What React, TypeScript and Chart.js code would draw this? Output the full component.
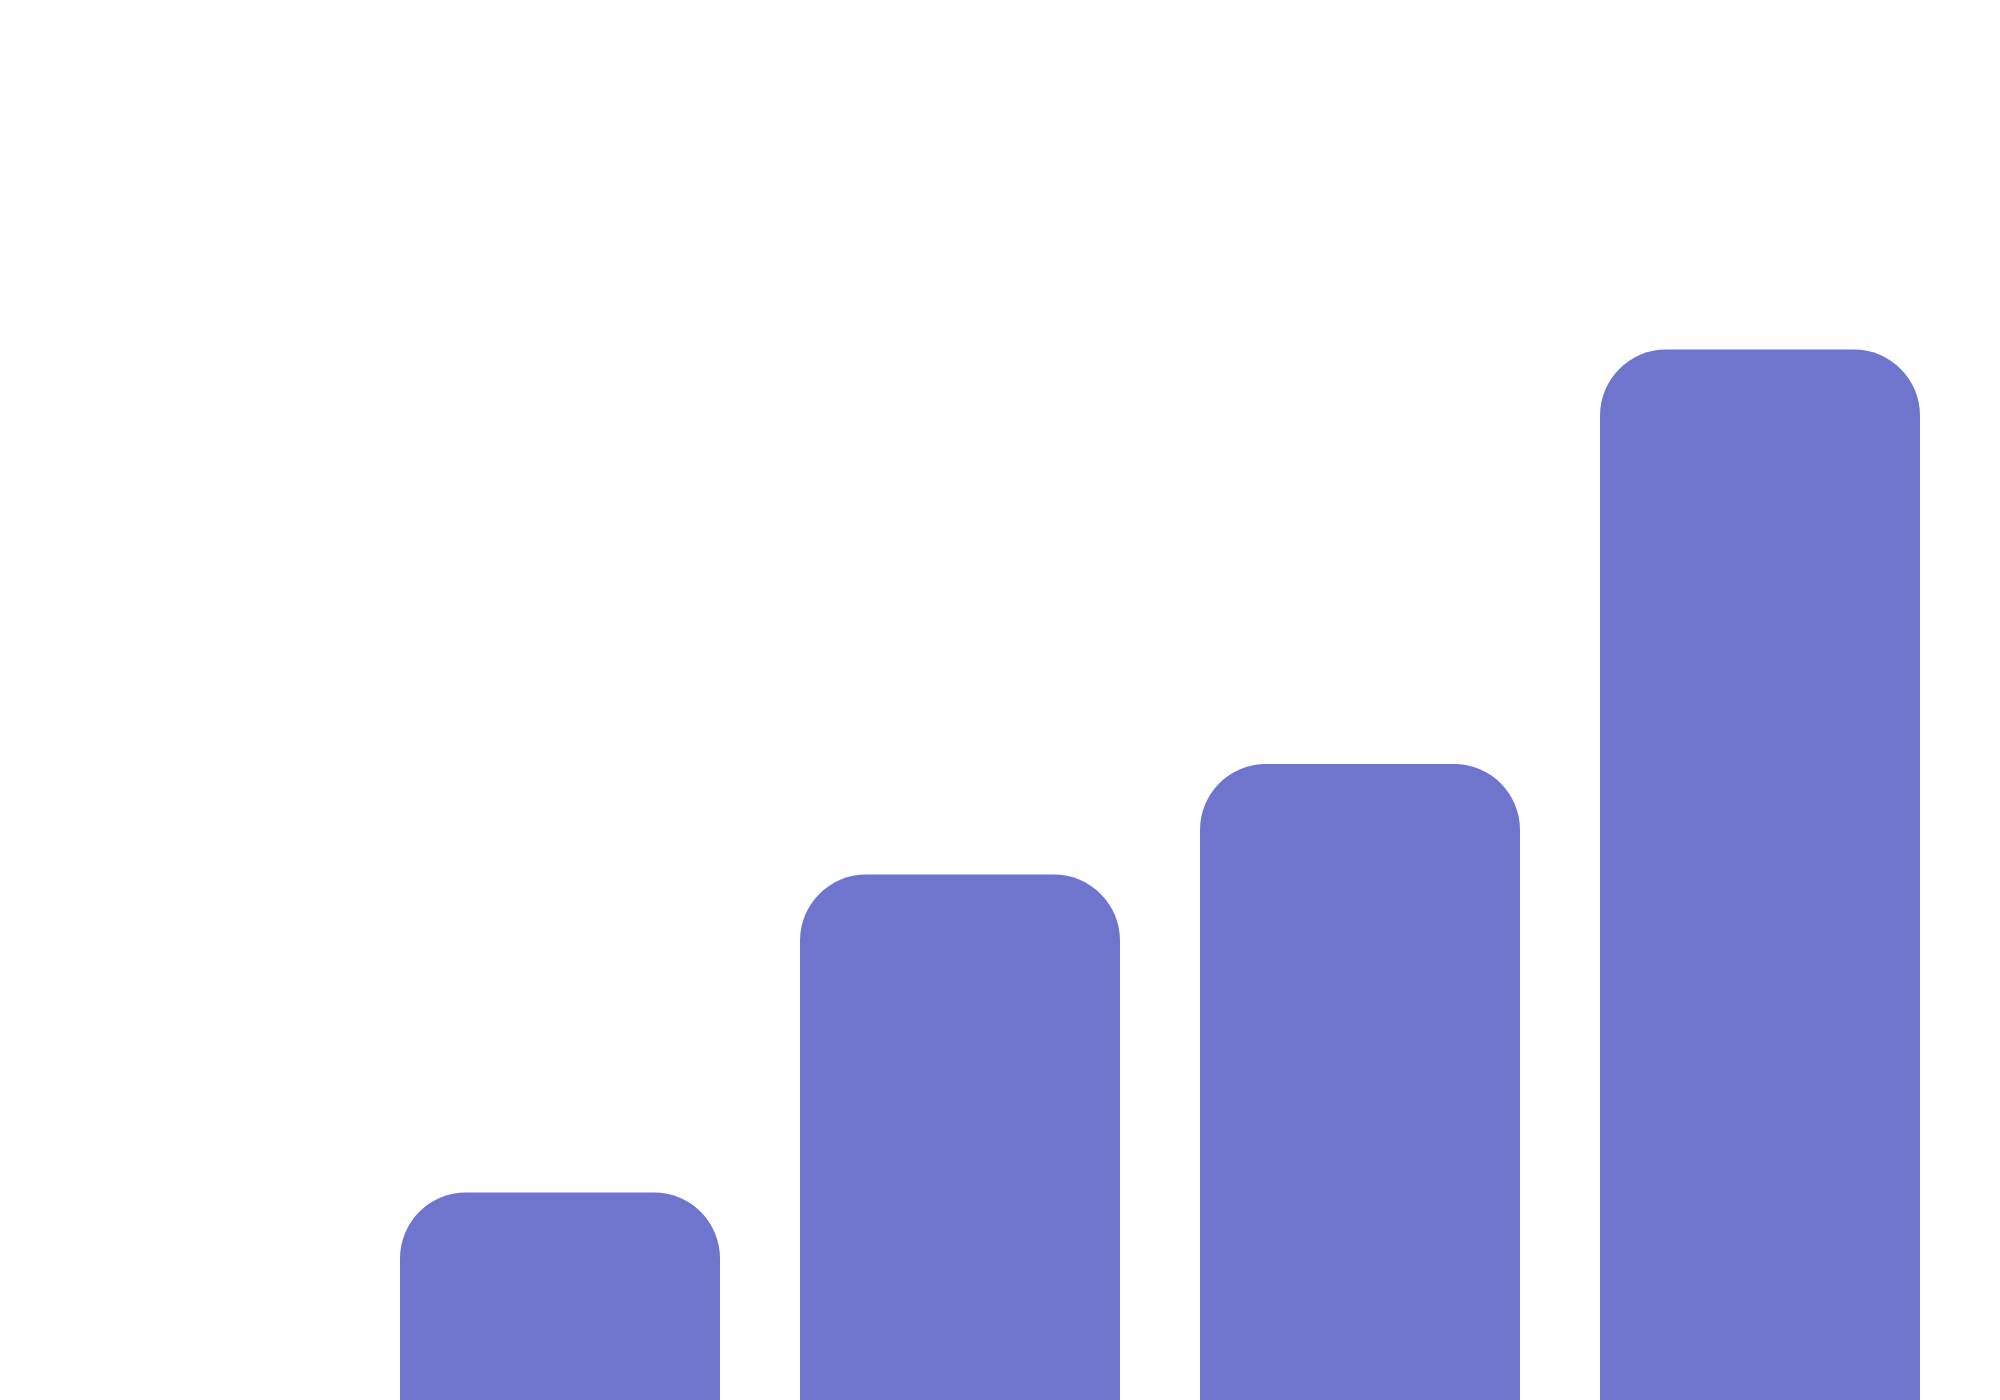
import { useEffect, useRef } from "react"
import { Chart, registerables } from "chart.js"

Chart.register(...registerables)

const categories = ["Q1", "Q2", "Q3", "Q4"]
const seriesValues = [15.4, 38.1, 46.0, 75.6]
const yTickLimits = [0, 100]

const App = () => {
  const chartRef = useRef<HTMLCanvasElement>(null)
  const chartInstance = useRef<Chart | null>(null)

  useEffect(() => {
    if (chartRef.current) {
      const ctx = chartRef.current.getContext("2d")

      if (ctx) {
        if (chartInstance.current) {
          chartInstance.current.destroy()
        }

        chartInstance.current = new Chart(ctx, {
          type: "bar",
          data: {
            labels: categories,
            datasets: [{
              label: "Value",
              data: seriesValues,
              backgroundColor: "#6F75CC",
              borderRadius: 66,
              borderSkipped: "bottom",
              barPercentage: 1,
              categoryPercentage: 0.8
            }]
          },
          options: {
            animation: false,
            responsive: true,
            maintainAspectRatio: false,
            layout: {
              padding: { left: 352, right: 32, top: 0, bottom: 0 }
            },
            scales: {
              x: { display: false },
              y: {
                display: false,
                min: yTickLimits[0],
                max: yTickLimits[1]
              }
            },
            plugins: {
              legend: { display: false },
              title: { display: false },
              tooltip: { enabled: false }
            }
          }
        })
      }
    }

    return () => {
      if (chartInstance.current) {
        chartInstance.current.destroy()
        chartInstance.current = null
      }
    }
  }, [])

  return (
    <div style={{ position: "relative", width: "100%", height: "1400px" }}>
      <canvas ref={chartRef}></canvas>
    </div>
  )
}

export default App
